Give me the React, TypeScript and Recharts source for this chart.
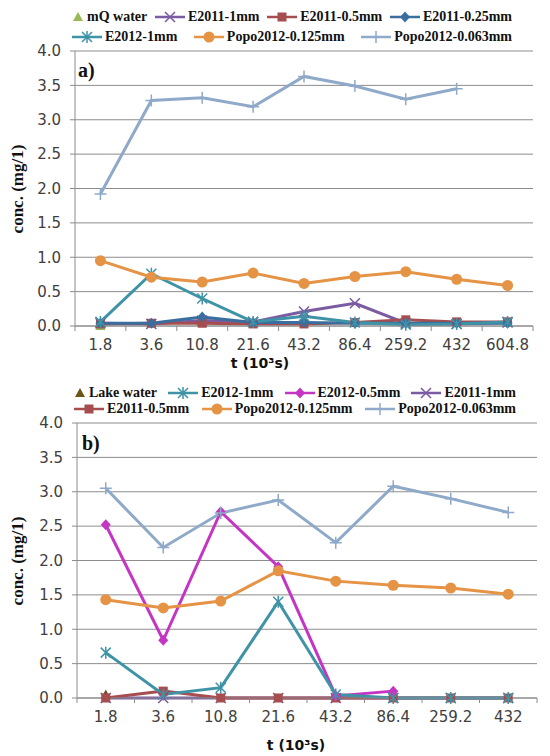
import React from "react";
import { LineChart, Line, XAxis, YAxis, CartesianGrid } from "recharts";

// categories (10^3 s)
const timesA = ["1.8", "3.6", "10.8", "21.6", "43.2", "86.4", "259.2", "432", "604.8"];
const timesB = ["1.8", "3.6", "10.8", "21.6", "43.2", "86.4", "259.2", "432"];
const concTicks = [0, 0.5, 1, 1.5, 2, 2.5, 3, 3.5, 4];

// panel a) values, mg/l
const mqWaterA = [0, null, null, null, null, null, null, null, null];
const e2011_1mmA = [0.04, 0.03, 0.08, 0.06, 0.21, 0.33, 0.04, 0.03, 0.05];
const e2011_05mmA = [0.03, 0.04, 0.04, 0.03, 0.03, 0.05, 0.09, 0.06, 0.06];
const e2011_025mmA = [0.04, 0.04, 0.13, 0.05, 0.05, 0.04, 0.04, 0.04, 0.04];
const e2012_1mmA = [0.06, 0.76, 0.4, 0.06, 0.14, 0.05, 0.02, 0.03, 0.06];
const popo0125A = [0.95, 0.71, 0.64, 0.77, 0.62, 0.72, 0.79, 0.68, 0.59];
const popo0063A = [1.92, 3.28, 3.32, 3.19, 3.63, 3.49, 3.3, 3.45, null];

// panel b) values, mg/l
const lakeWaterB = [0.05, null, null, null, null, null, null, null];
const e2011_1mmB = [0, 0, 0, 0, 0, 0, 0, 0];
const e2011_05mmB = [0, 0.1, 0, 0, 0, 0, 0, 0];
const e2012_05mmB = [2.52, 0.84, 2.71, 1.91, 0.03, 0.1, null, null];
const e2012_1mmB = [0.66, 0.05, 0.15, 1.4, 0.05, 0, 0, 0];
const popo0125B = [1.43, 1.31, 1.41, 1.85, 1.7, 1.64, 1.6, 1.51];
const popo0063B = [3.05, 2.19, 2.69, 2.88, 2.26, 3.08, 2.9, 2.7];

type Shape = "triangle" | "x" | "square" | "diamond" | "asterisk" | "circle" | "plus";

interface Series {
  key: string;
  name: string;
  color: string;
  shape: Shape;
  values: (number | null)[];
}

const C = {
  mq: "#98b954",
  lake: "#6b5516",
  e11_1: "#7b5ba1",
  e11_05: "#a64d4f",
  e11_025: "#3a6e9e",
  e12_1: "#3f93a6",
  e12_05: "#c535c3",
  p125: "#e59345",
  p063: "#8fa9c9",
};

// draw order (last on top)
const seriesA: Series[] = [
  { key: "mq", name: "mQ water", color: C.mq, shape: "triangle", values: mqWaterA },
  { key: "e11_1", name: "E2011-1mm", color: C.e11_1, shape: "x", values: e2011_1mmA },
  { key: "e11_05", name: "E2011-0.5mm", color: C.e11_05, shape: "square", values: e2011_05mmA },
  { key: "e11_025", name: "E2011-0.25mm", color: C.e11_025, shape: "diamond", values: e2011_025mmA },
  { key: "e12_1", name: "E2012-1mm", color: C.e12_1, shape: "asterisk", values: e2012_1mmA },
  { key: "p125", name: "Popo2012-0.125mm", color: C.p125, shape: "circle", values: popo0125A },
  { key: "p063", name: "Popo2012-0.063mm", color: C.p063, shape: "plus", values: popo0063A },
];

const seriesB: Series[] = [
  { key: "lake", name: "Lake water", color: C.lake, shape: "triangle", values: lakeWaterB },
  { key: "e11_1", name: "E2011-1mm", color: C.e11_1, shape: "x", values: e2011_1mmB },
  { key: "e11_05", name: "E2011-0.5mm", color: C.e11_05, shape: "square", values: e2011_05mmB },
  { key: "e12_05", name: "E2012-0.5mm", color: C.e12_05, shape: "diamond", values: e2012_05mmB },
  { key: "e12_1", name: "E2012-1mm", color: C.e12_1, shape: "asterisk", values: e2012_1mmB },
  { key: "p125", name: "Popo2012-0.125mm", color: C.p125, shape: "circle", values: popo0125B },
  { key: "p063", name: "Popo2012-0.063mm", color: C.p063, shape: "plus", values: popo0063B },
];

const legendA = [
  ["mq", "e11_1", "e11_05", "e11_025"],
  ["e12_1", "p125", "p063"],
];
const legendB = [
  ["lake", "e12_1", "e12_05", "e11_1"],
  ["e11_05", "p125", "p063"],
];

const GRID = "#8c8c8c";
const TICK_TEXT = "#404040";

function Marker({ shape, cx, cy, color }: { shape: Shape; cx: number; cy: number; color: string }) {
  switch (shape) {
    case "triangle":
      return <path d={`M${cx},${cy - 5}L${cx + 5},${cy + 4}L${cx - 5},${cy + 4}Z`} fill={color} />;
    case "x":
      return (
        <path
          d={`M${cx - 5},${cy - 5}L${cx + 5},${cy + 5}M${cx - 5},${cy + 5}L${cx + 5},${cy - 5}`}
          stroke={color}
          strokeWidth={1.5}
        />
      );
    case "square":
      return <rect x={cx - 4.5} y={cy - 4.5} width={9} height={9} fill={color} />;
    case "diamond":
      return <path d={`M${cx},${cy - 5.5}L${cx + 5},${cy}L${cx},${cy + 5.5}L${cx - 5},${cy}Z`} fill={color} />;
    case "asterisk":
      return (
        <path
          d={`M${cx - 5},${cy - 5}L${cx + 5},${cy + 5}M${cx - 5},${cy + 5}L${cx + 5},${cy - 5}M${cx},${cy - 6}L${cx},${cy + 6}`}
          stroke={color}
          strokeWidth={1.5}
        />
      );
    case "circle":
      return <circle cx={cx} cy={cy} r={5.5} fill={color} />;
    case "plus":
      return (
        <path
          d={`M${cx - 6},${cy}L${cx + 6},${cy}M${cx},${cy - 6}L${cx},${cy + 6}`}
          stroke={color}
          strokeWidth={1.5}
        />
      );
  }
  return null;
}

function LegendItem({ s }: { s: Series }) {
  const lineless = s.key === "mq" || s.key === "lake";
  return (
    <span style={{ display: "inline-flex", alignItems: "center", whiteSpace: "nowrap" }}>
      <svg width={lineless ? 12 : 30} height={14} style={{ marginRight: 3 }}>
        {!lineless && <line x1={0} y1={7} x2={30} y2={7} stroke={s.color} strokeWidth={2.5} />}
        <Marker shape={s.shape} cx={lineless ? 6 : 15} cy={7} color={s.color} />
      </svg>
      {s.name}
    </span>
  );
}

interface PanelProps {
  top: number;
  height: number;
  times: string[];
  series: Series[];
  legend: string[][];
  legendLeft: number;
  legendWidth: number;
  legendTop: number;
  legendRowGap: number;
  tag: string;
  tagPos: { left: number; top: number };
  axisLeft: number;
  margin: { top: number; right: number; bottom: number };
  plotWidth: number;
  titleCenter: number;
  titleTop: number;
}

function Panel(p: PanelProps) {
  const rows = p.times.map((t, i) => {
    const r: Record<string, string | number | null> = { t };
    p.series.forEach((s) => (r[s.key] = s.values[i]));
    return r;
  });
  const half = p.plotWidth / (2 * p.times.length);
  const plotTop = p.margin.top;
  const plotH = p.height - p.margin.top - p.margin.bottom - 30;

  const XTick = (props: any) => {
    const { x, y, payload, index } = props;
    return (
      <g>
        <text x={x} y={y + 24} textAnchor="middle" fill={TICK_TEXT} fontSize={15} fontFamily="DejaVu Sans">
          {payload.value}
        </text>
        {index === 0 && <line x1={x - half} y1={y} x2={x - half} y2={y + 5} stroke={GRID} />}
        <line x1={x + half} y1={y} x2={x + half} y2={y + 5} stroke={GRID} />
      </g>
    );
  };

  return (
    <div style={{ position: "absolute", left: 0, top: p.top, width: 550, height: p.height }}>
      <LineChart width={550} height={p.height} data={rows} margin={{ ...p.margin, left: 0 }}>
        <CartesianGrid vertical={false} stroke={GRID} strokeWidth={1} />
        <XAxis
          dataKey="t"
          padding={{ left: half, right: half }}
          height={30}
          tickLine={false}
          tickSize={0}
          tickMargin={0}
          interval={0}
          stroke={GRID}
          tick={XTick}
        />
        <YAxis
          domain={[0, 4]}
          ticks={concTicks}
          width={p.axisLeft}
          tickFormatter={(v: number) => v.toFixed(1)}
          tickSize={5}
          tickMargin={9}
          stroke={GRID}
          tick={{ fontSize: 15, fill: TICK_TEXT, fontFamily: "DejaVu Sans" }}
        />
        {p.series.map((s) => (
          <Line
            key={s.key}
            dataKey={s.key}
            name={s.name}
            type="linear"
            stroke={s.color}
            strokeWidth={3}
            isAnimationActive={false}
            activeDot={false}
            dot={(d: any) =>
              d.value == null || d.cy == null ? (
                <g key={`${s.key}-${d.index}`} />
              ) : (
                <Marker key={`${s.key}-${d.index}`} shape={s.shape} cx={d.cx} cy={d.cy} color={s.color} />
              )
            }
          />
        ))}
      </LineChart>

      <div
        style={{
          position: "absolute",
          left: p.legendLeft,
          top: p.legendTop,
          width: p.legendWidth,
          fontFamily: "Liberation Serif",
          fontWeight: "bold",
          fontSize: 14,
          lineHeight: "16px",
          color: "#111",
        }}
      >
        {p.legend.map((row, ri) => (
          <div
            key={ri}
            style={{ display: "flex", justifyContent: "space-between", marginTop: ri > 0 ? p.legendRowGap : 0 }}
          >
            {row.map((k) => {
              const s = p.series.find((x) => x.key === k)!;
              return <LegendItem key={k} s={s} />;
            })}
          </div>
        ))}
      </div>

      <div
        style={{
          position: "absolute",
          left: p.tagPos.left,
          top: p.tagPos.top,
          fontFamily: "Liberation Serif",
          fontWeight: "bold",
          fontSize: 20,
          color: "#111",
        }}
      >
        {p.tag}
      </div>

      <div
        style={{
          position: "absolute",
          left: 18 - 60,
          top: plotTop + plotH / 2 - 10,
          width: 120,
          textAlign: "center",
          transform: "rotate(-90deg)",
          fontFamily: "Liberation Serif",
          fontWeight: "bold",
          fontSize: 17,
          lineHeight: "20px",
          color: "#111",
        }}
      >
        conc. (mg/1)
      </div>

      <div
        style={{
          position: "absolute",
          left: p.titleCenter - 60,
          top: p.titleTop,
          width: 120,
          textAlign: "center",
          fontFamily: "DejaVu Sans",
          fontWeight: "bold",
          fontSize: 14,
          lineHeight: "16px",
          color: "#111",
        }}
      >
        t (10³s)
      </div>
    </div>
  );
}

export default function App() {
  return (
    <div style={{ position: "absolute", left: 0, top: 0, width: 550, height: 756, background: "#fff" }}>
      <Panel
        top={0}
        height={376}
        times={timesA}
        series={seriesA}
        legend={legendA}
        legendLeft={72}
        legendWidth={440}
        legendTop={9}
        legendRowGap={4}
        tag="a)"
        tagPos={{ left: 78, top: 59 }}
        axisLeft={75}
        margin={{ top: 51, right: 17, bottom: 20 }}
        plotWidth={458}
        titleCenter={260}
        titleTop={355}
      />
      <Panel
        top={376}
        height={380}
        times={timesB}
        series={seriesB}
        legend={legendB}
        legendLeft={74}
        legendWidth={442}
        legendTop={9}
        legendRowGap={0}
        tag="b)"
        tagPos={{ left: 82, top: 56 }}
        axisLeft={77}
        margin={{ top: 47, right: 13, bottom: 28 }}
        plotWidth={460}
        titleCenter={296}
        titleTop={361}
      />
    </div>
  );
}
